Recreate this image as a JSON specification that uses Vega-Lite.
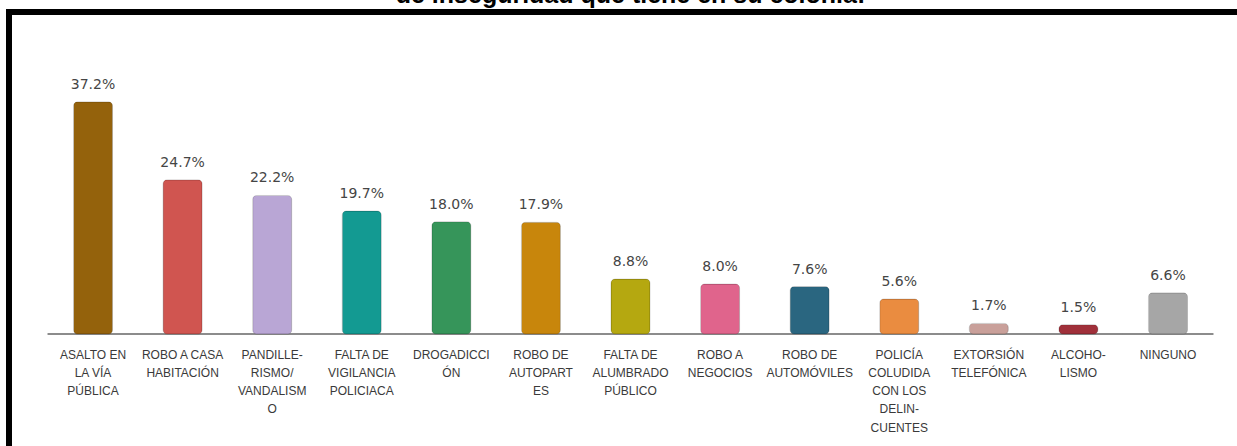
{
  "$schema": "https://vega.github.io/schema/vega-lite/v6.json",
  "autosize": {"type": "none"},
  "width": 1243,
  "height": 445,
  "padding": {"left": 9, "top": 12, "right": 0, "bottom": 0},
  "background": "white",
  "title": {
    "text": "de inseguridad que tiene en su colonia:",
    "anchor": "middle",
    "frame": "group",
    "font": "Liberation Sans",
    "fontSize": 25,
    "fontWeight": "bold",
    "color": "black",
    "baseline": "alphabetic",
    "offset": 0,
    "dy": 16
  },
  "config": {"view": {"stroke": "black", "strokeWidth": 6}},
  "data": {
    "values": [
      {"problema": "ASALTO EN|LA VÍA|PÚBLICA", "v": 0.372},
      {"problema": "ROBO A CASA|HABITACIÓN", "v": 0.247},
      {"problema": "PANDILLE-|RISMO/|VANDALISM|O", "v": 0.222},
      {"problema": "FALTA DE|VIGILANCIA|POLICIACA", "v": 0.197},
      {"problema": "DROGADICCI|ÓN", "v": 0.180},
      {"problema": "ROBO DE|AUTOPART|ES", "v": 0.179},
      {"problema": "FALTA DE|ALUMBRADO|PÚBLICO", "v": 0.088},
      {"problema": "ROBO A|NEGOCIOS", "v": 0.080},
      {"problema": "ROBO DE|AUTOMÓVILES", "v": 0.076},
      {"problema": "POLICÍA|COLUDIDA|CON LOS|DELIN-|CUENTES", "v": 0.056},
      {"problema": "EXTORSIÓN|TELEFÓNICA", "v": 0.017},
      {"problema": "ALCOHO-|LISMO", "v": 0.015},
      {"problema": "NINGUNO", "v": 0.066}
    ]
  },
  "encoding": {
    "x": {
      "field": "problema",
      "type": "nominal",
      "sort": null,
      "scale": {"paddingInner": 0.564, "paddingOuter": 0.72},
      "axis": {
        "title": null,
        "domain": false,
        "ticks": false,
        "labelAngle": 0,
        "offset": -123,
        "labelExpr": "split(datum.label, '|')",
        "labelFont": "Liberation Sans",
        "labelFontSize": 12,
        "labelColor": "#3a3a3a",
        "labelLineHeight": 18.3,
        "labelPadding": 15,
        "labelOverlap": false
      }
    }
  },
  "layer": [
    {
      "mark": {"type": "tick", "orient": "horizontal", "color": "#8c8c8c", "size": 91, "thickness": 2, "opacity": 1},
      "encoding": {
        "y": {"datum": 0, "type": "quantitative", "scale": {"domain": [-0.1971, 0.516], "nice": false, "zero": false}, "axis": null}
      }
    },
    {
      "mark": {"type": "bar", "cornerRadius": 4, "stroke": "#000000", "strokeOpacity": 0.15, "strokeWidth": 1},
      "encoding": {
        "y": {
          "field": "v",
          "type": "quantitative",
          "scale": {"domain": [-0.1971, 0.516], "nice": false, "zero": false},
          "axis": null
        },
        "color": {
          "field": "problema",
          "type": "nominal",
          "sort": null,
          "legend": null,
          "scale": {
            "range": ["#94620C", "#D05550", "#B9A6D5", "#139A92", "#36955A", "#C8860C", "#B5A810", "#E0648C", "#2A6680", "#EA8C40", "#C9A09A", "#A0303A", "#A6A6A6"]
          }
        }
      }
    },
    {
      "mark": {"type": "text", "font": "DejaVu Sans", "fontSize": 14, "color": "#454545", "baseline": "alphabetic", "dy": -13},
      "encoding": {
        "y": {"field": "v", "type": "quantitative"},
        "text": {"field": "v", "type": "quantitative", "format": ".1%"}
      }
    }
  ]
}
